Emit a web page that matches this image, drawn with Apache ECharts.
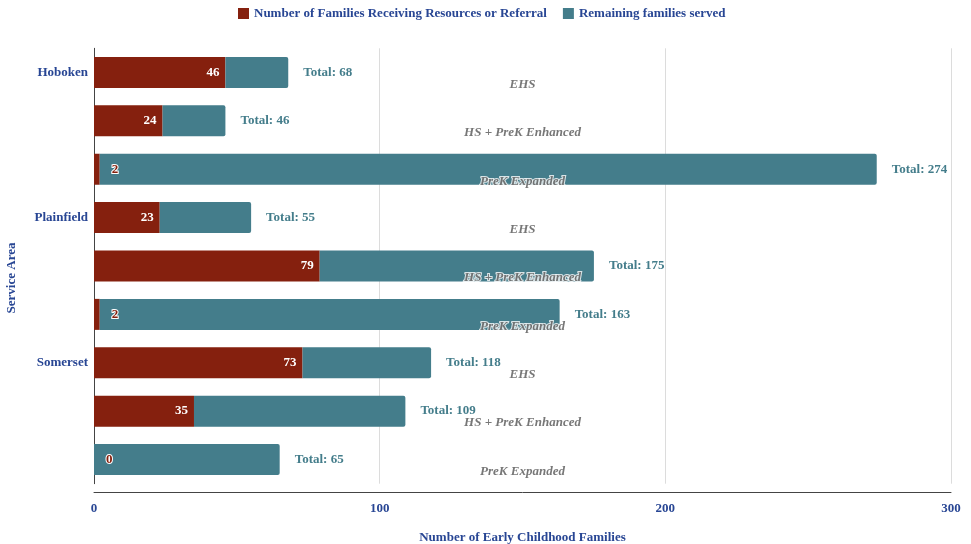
<!DOCTYPE html>
<html>
<head>
<meta charset="utf-8">
<script src="https://cdn.jsdelivr.net/npm/echarts@6/dist/echarts.min.js"></script>
<style>
  html, body { margin: 0; padding: 0; background: #fff; }
  #chart { width: 971px; height: 544px; }
</style>
</head>
<body>
<div id="chart"></div>
<script>
// service areas and programs, one bar per (area, program)
const areas = ["Hoboken", "Plainfield", "Somerset"];
const programs = ["EHS", "HS + PreK Enhanced", "PreK Expanded"];

// Number of Families Receiving Resources or Referral
const referred = [46, 24, 2, 23, 79, 2, 73, 35, 0];
// Remaining families served
const remaining = [22, 22, 272, 32, 96, 161, 45, 74, 65];
// totals shown right of each bar
const totals = [68, 46, 274, 55, 175, 163, 118, 109, 65];

const xTicks = [0, 100, 200, 300];

const RED = "#85200e";
const TEAL = "#447d8b";
const BLUE = "#284694";
const FONT = "Liberation Serif";

let categories = [];
areas.forEach((a) => {
  programs.forEach((p) => {
    categories.push(a + " - " + p);
  });
});

let chartDom = echarts.init(document.getElementById("chart"));

chartDom.setOption({
  animation: false,
  textStyle: { fontFamily: FONT },
  legend: {
    data: [
      "Number of Families Receiving Resources or Referral",
      "Remaining families served",
    ],
    top: 2,
    left: 233,
    itemWidth: 11,
    itemHeight: 11,
    itemGap: 16,
    icon: "rect",
    textStyle: {
      color: BLUE,
      fontSize: 13,
      fontWeight: "bold",
      fontFamily: FONT,
    },
  },
  grid: {
    top: 48.3,
    bottom: 60.3,
    left: 94,
    right: 20,
    outerBoundsMode: "none",
    containLabel: false,
  },
  xAxis: {
    type: "value",
    min: xTicks[0],
    max: xTicks[xTicks.length - 1],
    interval: 100,
    offset: 8.3,
    name: "Number of Early Childhood Families",
    nameLocation: "middle",
    nameGap: 39,
    nameTextStyle: {
      color: BLUE,
      fontSize: 13,
      fontWeight: "bold",
      fontFamily: FONT,
    },
    axisLine: { show: true, lineStyle: { color: "#444", width: 1 } },
    axisTick: { show: false },
    axisLabel: {
      color: BLUE,
      fontSize: 13,
      fontWeight: "bold",
      margin: 10,
    },
    splitLine: { show: true, lineStyle: { color: "#dcdcdc", width: 1 } },
  },
  yAxis: {
    type: "category",
    inverse: true,
    data: categories,
    name: "Service Area",
    nameLocation: "middle",
    nameGap: 76,
    nameTextStyle: {
      color: BLUE,
      fontSize: 13,
      fontWeight: "bold",
      fontFamily: FONT,
      padding: [0, 24, 0, 0],
    },
    axisLine: { show: true, lineStyle: { color: "#444", width: 1 } },
    axisTick: { show: false },
    axisLabel: {
      interval: 0,
      color: BLUE,
      fontSize: 13,
      fontWeight: "bold",
      margin: 6,
      formatter: function (value, index) {
        return index % programs.length === 0
          ? areas[index / programs.length]
          : "";
      },
    },
    splitLine: { show: false },
  },
  series: [
    {
      name: "Number of Families Receiving Resources or Referral",
      type: "bar",
      stack: "families",
      barWidth: 31,
      data: referred.map((v) => {
        let small = v < 5;
        return {
          value: v,
          label: small
            ? {
                position: "right",
                distance: 12,
                color: RED,
                textBorderColor: "#fff",
                textBorderWidth: 2,
              }
            : {},
        };
      }),
      itemStyle: { color: RED },
      label: {
        show: true,
        position: "insideRight",
        distance: 6,
        color: "#fff",
        fontSize: 13,
        fontWeight: "bold",
        fontFamily: FONT,
      },
    },
    {
      name: "Remaining families served",
      type: "bar",
      stack: "families",
      barWidth: 31,
      data: remaining,
      itemStyle: { color: TEAL, borderRadius: [0, 2, 2, 0] },
      label: {
        show: true,
        position: "right",
        distance: 15,
        color: TEAL,
        fontSize: 13,
        fontWeight: "bold",
        fontFamily: FONT,
        formatter: function (p) {
          return "Total: " + totals[p.dataIndex];
        },
      },
    },
    {
      // program names written across the middle of the plot
      name: "program",
      type: "scatter",
      symbolSize: 1,
      z: 5,
      itemStyle: { color: "transparent" },
      data: categories.map((c, i) => [150, i]),
      label: {
        show: true,
        position: "inside",
        offset: [0, 12],
        color: "#555",
        fontSize: 13,
        fontStyle: "italic",
        fontWeight: "bold",
        fontFamily: FONT,
        textBorderColor: "#fff",
        textBorderWidth: 2,
        formatter: function (p) {
          return programs[p.dataIndex % programs.length];
        },
      },
      tooltip: { show: false },
    },
  ],
});
</script>
</body>
</html>
